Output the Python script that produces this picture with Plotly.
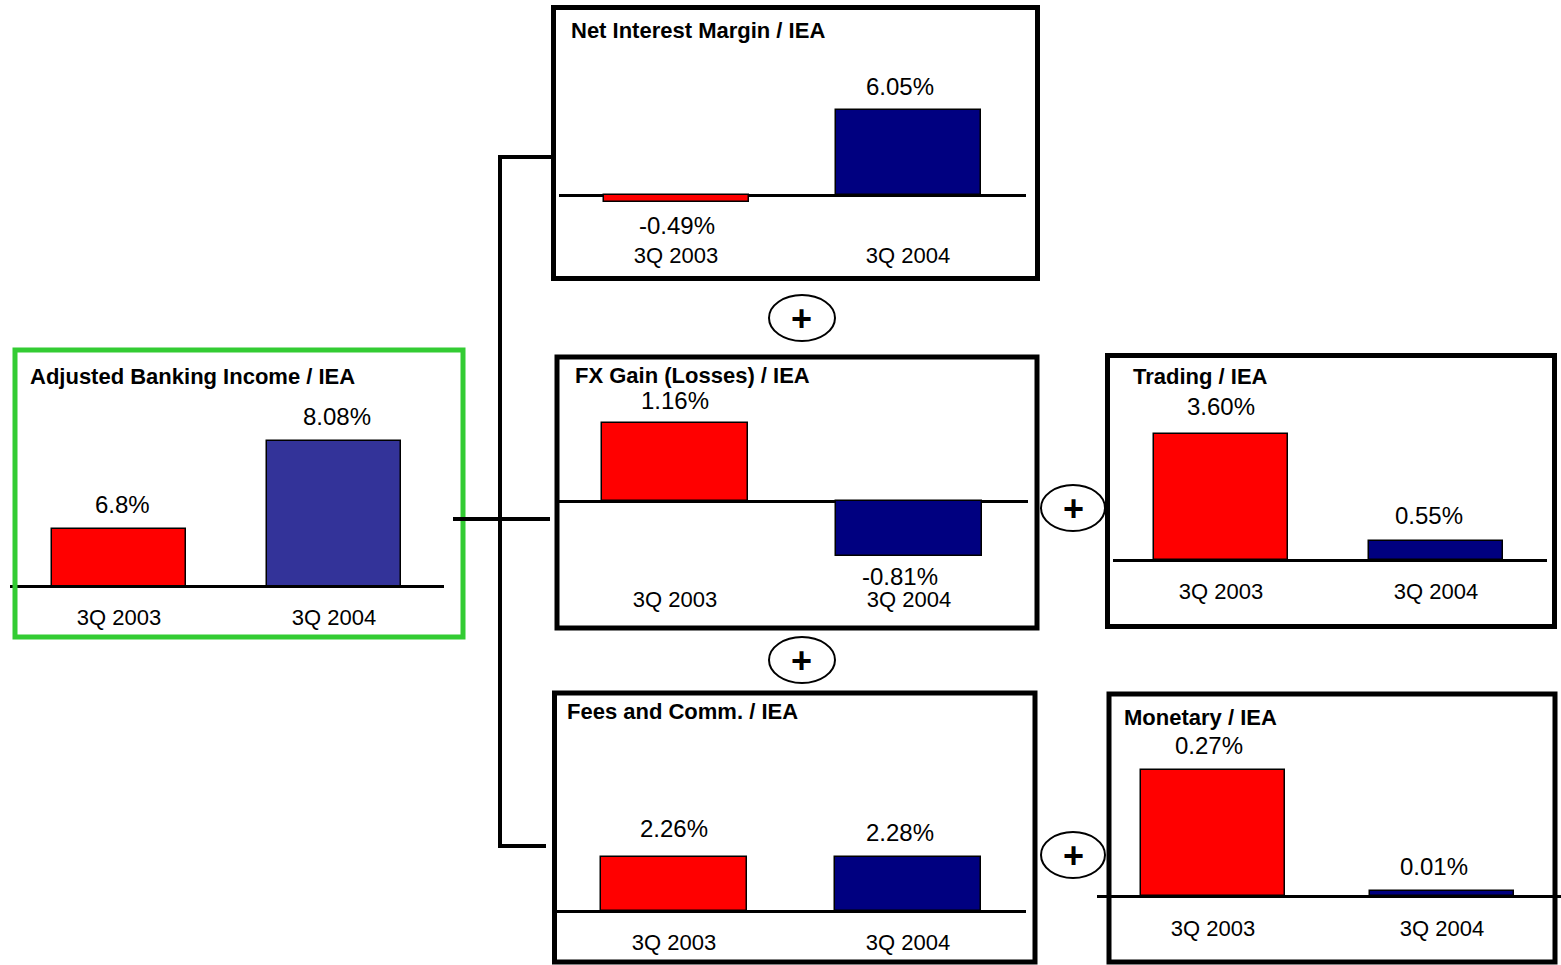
import plotly.graph_objects as go

W, H = 1561, 965

# ---------------- data ----------------
categories = ["3Q 2003", "3Q 2004"]

titles = [
    "Adjusted Banking Income / IEA",
    "Net Interest Margin / IEA",
    "FX Gain (Losses) / IEA",
    "Fees and Comm. / IEA",
    "Trading / IEA",
    "Monetary / IEA",
]
adjusted_income = [6.8, 8.08]
net_interest_margin = [-0.49, 6.05]
fx_gain = [1.16, -0.81]
fees_comm = [2.26, 2.28]
trading = [3.60, 0.55]
monetary = [0.27, 0.01]

adjusted_labels = ["6.8%", "8.08%"]
nim_labels = ["-0.49%", "6.05%"]
fx_labels = ["1.16%", "-0.81%"]
fees_labels = ["2.26%", "2.28%"]
trading_labels = ["3.60%", "0.55%"]
monetary_labels = ["0.27%", "0.01%"]

series = [adjusted_income, net_interest_margin, fx_gain, fees_comm, trading, monetary]
labels = [adjusted_labels, nim_labels, fx_labels, fees_labels, trading_labels, monetary_labels]

# ---------------- styles / layout geometry (pixels) ----------------
RED = "#FF0000"
NAVY = "#000080"
PURPLE_BLUE = "#333399"
GREEN = "#33CC33"
bar_colors = [[RED, PURPLE_BLUE]] + [[RED, NAVY]] * 5

# L, R: baseline extent; c0, c1: bar centres; top/bottom: plot domain;
# base: baseline pixel; scale: px per unit; floor: value at baseline; lab: tick label centre y
geo = [
    dict(L=10, R=444, c0=119, c1=334, top=360, bottom=585, base=585, scale=68.75, floor=5.985, lab=617),
    dict(L=559, R=1026, c0=676, c1=908, top=12, bottom=212, base=195, scale=14.05, floor=0, lab=256),
    dict(L=558, R=1028, c0=675, c1=909, top=362, bottom=562, base=501, scale=67.5, floor=0, lab=600),
    dict(L=557, R=1026, c0=674, c1=908, top=698, bottom=916, base=911, scale=23.9, floor=0, lab=943),
    dict(L=1113, R=1547, c0=1221, c1=1436, top=360, bottom=565, base=560, scale=35.0, floor=0, lab=592),
    dict(L=1097, R=1561, c0=1213, c1=1442, top=697, bottom=901, base=896, scale=467.0, floor=0, lab=929),
]
# small nudges of the value labels, as in the original slide
label_dx = [[3, 3], [1, -8], [0, -9], [0, -8], [0, -7], [-4, -8]]
label_dy = [[24, 24], [-24, 24], [22, -21], [28, 24], [28, 25], [24, 25]]
title_pos = [(28, 376), (569, 30), (573, 375), (565, 711), (1131, 376), (1122, 717)]
boxes = [
    (15, 350, 463, 637, GREEN),
    (553.5, 7.5, 1037.5, 278.5, "black"),
    (557, 357, 1037, 628, "black"),
    (554.5, 693, 1035, 962, "black"),
    (1107.5, 355.5, 1554.5, 626.5, "black"),
    (1109, 694, 1555, 962, "black"),
]
ellipses = [(769, 295, 835, 341), (769, 637, 835, 683), (1041, 485, 1105, 531), (1041, 832, 1105, 878)]
connectors = [
    (500, 157, 500, 846), (498, 157, 551, 157), (453, 519, 550, 519), (498, 846, 546, 846),
]

LABEL_FONT = "Liberation Sans, Arial, Helvetica, sans-serif"
TITLE_FONT = "Liberation Sans, Arial, Helvetica, sans-serif"
K_TICK = 16  # default distance of tick label centre below domain bottom


def px(x):
    return x / W


def py(y):
    return 1 - y / H


fig = go.Figure()
annotations = []
shapes = []

for i, (vals, labs, g) in enumerate(zip(series, labels, geo)):
    n = "" if i == 0 else str(i + 1)
    xa, ya = "x" + n, "y" + n
    d = g["c1"] - g["c0"]
    xr = [-(g["c0"] - g["L"]) / d, 1 + (g["R"] - g["c1"]) / d]
    yr = [g["floor"] - (g["bottom"] - g["base"]) / g["scale"],
          g["floor"] + (g["base"] - g["top"]) / g["scale"]]
    fig.add_trace(go.Bar(
        x=categories, y=vals, xaxis=xa, yaxis=ya, width=0.625,
        marker=dict(color=bar_colors[i], line=dict(color="black", width=1.5)),
        showlegend=False, hoverinfo="x+y",
    ))
    xkey = "xaxis" + n
    ykey = "yaxis" + n
    fig.layout[xkey] = dict(
        domain=[px(g["L"]), px(g["R"])], range=xr, anchor=ya, type="category",
        showgrid=False, zeroline=False, ticks="",
        showline=(i == 0), linecolor="black", linewidth=3,
        tickfont=dict(family=LABEL_FONT, size=22, color="black"),
        ticklabelstandoff=g["lab"] - g["bottom"] - K_TICK - (5 if i == 0 else 0),
        fixedrange=True,
    )
    fig.layout[ykey] = dict(
        domain=[py(g["bottom"]), py(g["top"])], range=yr, anchor=xa,
        showgrid=False, showticklabels=False, ticks="", showline=False,
        zeroline=(i != 0), zerolinecolor="black", zerolinewidth=3,
        fixedrange=True,
    )
    for cat, v, t, dx, dy in zip(categories, vals, labs, label_dx[i], label_dy[i]):
        annotations.append(dict(
            x=cat, y=v, xref=xa, yref=ya, text=t, showarrow=False,
            yanchor="middle", yshift=dy, xshift=dx,
            font=dict(family=LABEL_FONT, size=24, color="black"),
        ))

for t, (tx, ty) in zip(titles, title_pos):
    annotations.append(dict(
        x=px(tx), y=py(ty), xref="paper", yref="paper", text="<b>" + t + "</b>",
        showarrow=False, xanchor="left", yanchor="middle",
        font=dict(family=TITLE_FONT, size=22, color="black"),
    ))

for (x0, y0, x1, y1, col) in boxes:
    shapes.append(dict(type="rect", xref="paper", yref="paper",
                       x0=px(x0), x1=px(x1), y0=py(y0), y1=py(y1),
                       line=dict(color=col, width=5), fillcolor="rgba(0,0,0,0)"))

for (x0, y0, x1, y1) in connectors:
    shapes.append(dict(type="line", xref="paper", yref="paper",
                       x0=px(x0), x1=px(x1), y0=py(y0), y1=py(y1),
                       line=dict(color="black", width=4)))

for (x0, y0, x1, y1) in ellipses:
    shapes.append(dict(type="circle", xref="paper", yref="paper",
                       x0=px(x0), x1=px(x1), y0=py(y0), y1=py(y1),
                       line=dict(color="black", width=2), fillcolor="white"))
    annotations.append(dict(
        x=px((x0 + x1) / 2), y=py((y0 + y1) / 2), xref="paper", yref="paper",
        text="<b>+</b>", showarrow=False, xanchor="center", yanchor="middle",
        font=dict(family="Liberation Sans, Arial, sans-serif", size=36, color="black"),
    ))

fig.update_layout(
    width=W, height=H, margin=dict(l=0, r=0, t=0, b=0),
    paper_bgcolor="white", plot_bgcolor="rgba(0,0,0,0)",
    annotations=annotations, shapes=shapes, bargap=0,
)

fig.write_html(
    "out.html",
    config={"displayModeBar": False},
    post_script="document.body.style.margin='0';document.body.style.overflow='hidden';",
)
